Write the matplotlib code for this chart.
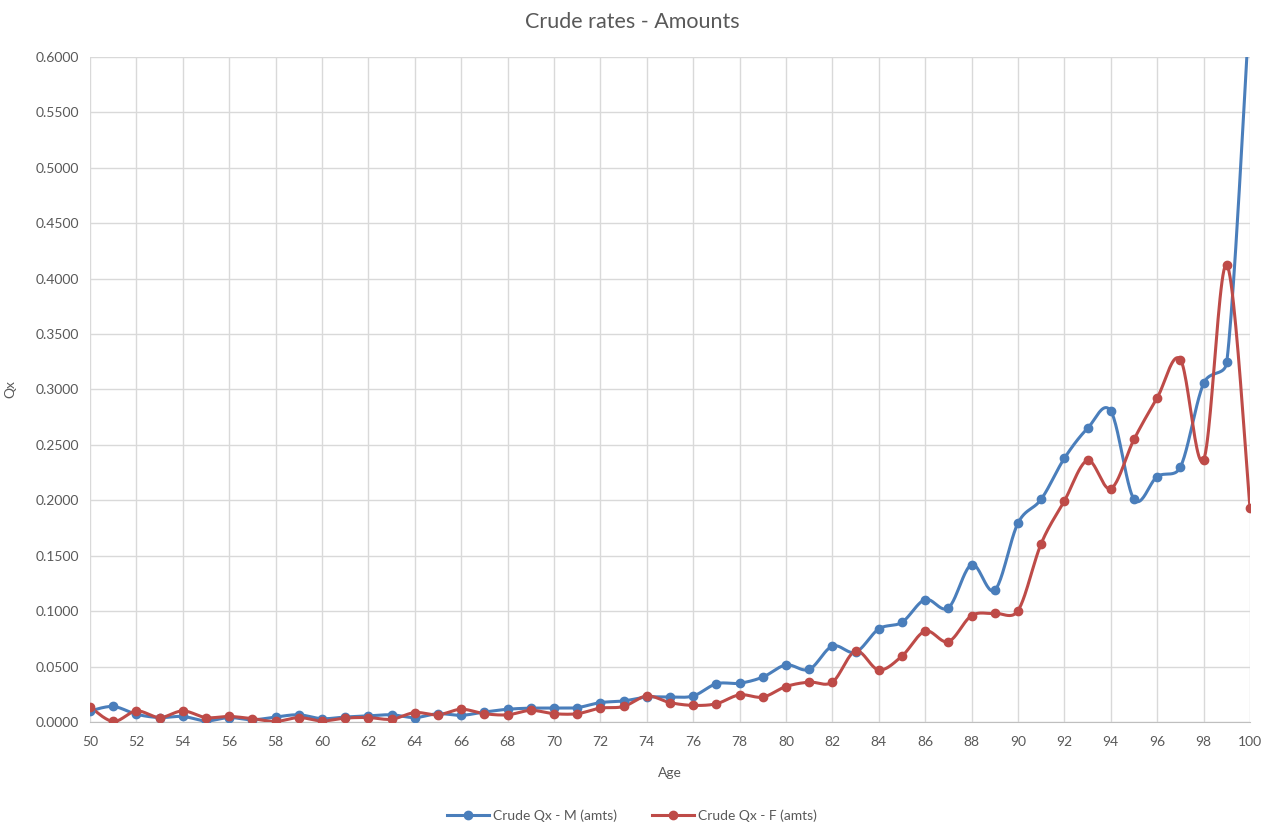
import numpy as np
import matplotlib
matplotlib.use("Agg")
import matplotlib.pyplot as plt
from matplotlib.ticker import FormatStrFormatter, MultipleLocator
from matplotlib.lines import Line2D

plt.rcParams['font.family'] = ['Lato', 'DejaVu Sans']

ages = list(range(50, 101))
male = [0.0100, 0.0140, 0.0070, 0.0040, 0.0050, 0.0010, 0.0040, 0.0020, 0.0045, 0.0065,
        0.0030, 0.0045, 0.0055, 0.0065, 0.0040, 0.0075, 0.0060, 0.0090, 0.0115, 0.0125,
        0.0125, 0.0130, 0.0175, 0.0190, 0.0225, 0.0225, 0.0235, 0.0345, 0.0350, 0.0405,
        0.0515, 0.0475, 0.0685, 0.0630, 0.0840, 0.0900, 0.1105, 0.1030, 0.1420, 0.1190,
        0.1795, 0.2010, 0.2380, 0.2650, 0.2805, 0.2010, 0.2215, 0.2300, 0.3055, 0.3250,
        0.6500]
female = [0.0135, 0.0005, 0.0100, 0.0040, 0.0100, 0.0040, 0.0050, 0.0030, 0.0005, 0.0040,
          0.0010, 0.0035, 0.0040, 0.0025, 0.0085, 0.0065, 0.0115, 0.0075, 0.0065, 0.0105,
          0.0075, 0.0075, 0.0125, 0.0140, 0.0235, 0.0175, 0.0150, 0.0165, 0.0245, 0.0225,
          0.0320, 0.0360, 0.0360, 0.0640, 0.0470, 0.0595, 0.0820, 0.0725, 0.0960, 0.0980,
          0.1005, 0.1610, 0.1995, 0.2360, 0.2105, 0.2550, 0.2925, 0.3270, 0.2365, 0.4125,
          0.1935]
series_names = ["Crude Qx - M (amts)", "Crude Qx - F (amts)"]
colors = ["#4a7ebb", "#be4b48"]

# approximate pixel scale of the plot area (for isotropic smoothing)
XS, YS = 23.2, 1108.3


def smooth(x, y, n=24, f=1 / 6, limit=0.5):
    P = np.column_stack([np.asarray(x, float) * XS, np.asarray(y, float) * YS])
    m = len(P)
    out = []
    for i in range(m - 1):
        p0 = P[max(i - 1, 0)]
        p1 = P[i]
        p2 = P[i + 1]
        p3 = P[min(i + 2, m - 1)]
        seg = np.linalg.norm(p2 - p1)
        d1 = (p2 - p0) * f
        d2 = (p3 - p1) * f
        for d in (d1, d2):
            L = np.linalg.norm(d)
            if L > limit * seg and L > 0:
                d *= limit * seg / L
        c1 = p1 + d1
        c2 = p2 - d2
        t = np.linspace(0, 1, n, endpoint=(i == m - 2))[:, None]
        pts = ((1 - t) ** 3) * p1 + 3 * ((1 - t) ** 2) * t * c1 + 3 * (1 - t) * t ** 2 * c2 + t ** 3 * p2
        out.append(pts)
    pts = np.vstack(out)
    return pts[:, 0] / XS, pts[:, 1] / YS


fig = plt.figure(figsize=(12.83, 8.26), dpi=100)
ax = fig.add_axes([90 / 1283, 104 / 826, 1160 / 1283, 665 / 826])

for vals, c in zip([male, female], colors):
    sx, sy = smooth(ages, vals)
    ax.plot(sx, sy, color=c, lw=2.2, solid_capstyle='round', zorder=3)
    ax.plot(ages, vals, 'o', color=c, ms=6, zorder=4)

ax.set_xlim(50, 100)
ax.set_ylim(0, 0.6)
ax.xaxis.set_major_locator(MultipleLocator(2))
ax.yaxis.set_major_locator(MultipleLocator(0.05))
ax.yaxis.set_major_formatter(FormatStrFormatter('%.4f'))
ax.grid(True, color='#d9d9d9', lw=1)
ax.set_axisbelow(True)
for s in ['top', 'right', 'left']:
    ax.spines[s].set_visible(False)
ax.spines['bottom'].set_color('#bfbfbf')
ax.tick_params(axis='both', length=0, labelsize=10, colors='#595959', pad=8)
ax.tick_params(axis='x', pad=10)

ax.set_xlabel('Age', fontsize=10, color='#595959', labelpad=14)
ax.set_ylabel('Qx', fontsize=10, color='#595959', labelpad=14)
fig.text(632 / 1283, 1 - 22 / 826, 'Crude rates - Amounts', ha='center', va='center',
         fontsize=15.5, color='#595959')

handles = [Line2D([0], [0], color=c, lw=2.2, marker='o', ms=6) for c in colors]
fig.legend(handles, series_names, loc='center', bbox_to_anchor=(632 / 1283, 1 - 816 / 826),
           ncol=2, frameon=False, fontsize=10, labelcolor='#595959', handlelength=3,
           columnspacing=2.5, handletextpad=0.3)

fig.savefig('out.png', dpi=100)
